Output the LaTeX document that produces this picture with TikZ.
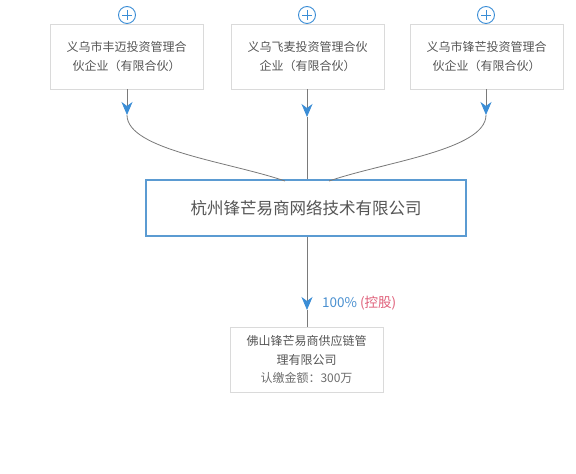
\documentclass[tikz,border=0pt]{standalone}
\usepackage{fontspec}
\setmainfont{Noto Sans CJK SC}
\usetikzlibrary{arrows.meta,calc}
\definecolor{txt}{HTML}{555555}
\definecolor{lnk}{HTML}{7A7A7A}
\definecolor{arr}{HTML}{3A8DD6}
\definecolor{bord}{HTML}{DADADA}
\definecolor{mainb}{HTML}{5B9BD2}
\definecolor{pct}{HTML}{4A90D0}
\definecolor{hold}{HTML}{E0607A}
\tikzset{
  holder/.style={draw=bord, line width=0.8pt, fill=white, minimum width=153pt, minimum height=65pt,
    text width=140pt, align=center, font=\fontsize{12}{19}\selectfont, text=txt, inner sep=0pt},
  mainbox/.style={draw=mainb, line width=1.4pt, fill=white, minimum width=320pt, minimum height=56pt,
    align=center, font=\fontsize{16.5}{20}\selectfont, text=txt},
  subbox/.style={draw=bord, line width=0.8pt, fill=white, minimum width=153pt, minimum height=65pt,
    text width=140pt, align=center, font=\fontsize{12}{18.5}\selectfont, text=txt, inner sep=0pt},
  plusc/.style={draw=arr, line width=0.9pt, circle, minimum size=17pt, inner sep=0pt},
  link/.style={draw=lnk, line width=0.8pt},
  arrlink/.style={link, -{Stealth[length=13pt,width=11pt,inset=4pt,color=arr]}},
}
\begin{document}
\begin{tikzpicture}[x=1pt,y=-1pt]
\useasboundingbox (0,0) rectangle (576,474);
\fill[white] (0,0) rectangle (576,474);
% holders
\node[holder] (b1) at (126.5,56.5) {义乌市丰迈投资管理合\\伙企业（有限合伙）};
\node[holder] (b2) at (307.5,56.5) {义乌飞麦投资管理合伙\\企业（有限合伙）};
\node[holder] (b3) at (486.5,56.5) {义乌市锋芒投资管理合\\伙企业（有限合伙）};
% plus circles
\foreach \i/\x in {1/127,2/307,3/486}{
  \node[plusc] (p\i) at (\x,15) {};
  \draw[arr, line width=0.9pt] ($(p\i.center)+(-5,0)$) -- ($(p\i.center)+(5,0)$);
  \draw[arr, line width=0.9pt] ($(p\i.center)+(0,-5)$) -- ($(p\i.center)+(0,5)$);
}
% main
\node[mainbox] (m) at (306,208) {杭州锋芒易商网络技术有限公司};
% arrow tips
\coordinate (a1) at (127,115);
\coordinate (a2) at (307,117);
\coordinate (a3) at (486,115);
\coordinate (m1) at (285,181);
\coordinate (m3) at (329,181);
\draw[arrlink] (b1.south -| a1) -- (a1);
\draw[arrlink] (b2.south -| a2) -- (a2);
\draw[arrlink] (b3.south -| a3) -- (a3);
\draw[link] (a1) .. controls (127,150) and (230,162) .. (m1);
\draw[link] (a2) -- (m.north -| a2);
\draw[link] (a3) .. controls (486,150) and (384,162) .. (m3);
% sub
\node[subbox] (s) at (306.5,359.5) {佛山锋芒易商供应链管\\理有限公司\\{\color{txt!85}认缴金额：300万}};
\coordinate (a4) at (307,310);
\draw[arrlink] (m.south -| a4) -- (a4);
\draw[link] (a4) -- (s.north -| a4);
\node[anchor=west, inner sep=0pt, font=\fontsize{13.5}{15}\selectfont] (lab) at (322,303)
  {\textcolor{pct}{100\%} \textcolor{hold}{(控股)}};
\end{tikzpicture}
\end{document}
